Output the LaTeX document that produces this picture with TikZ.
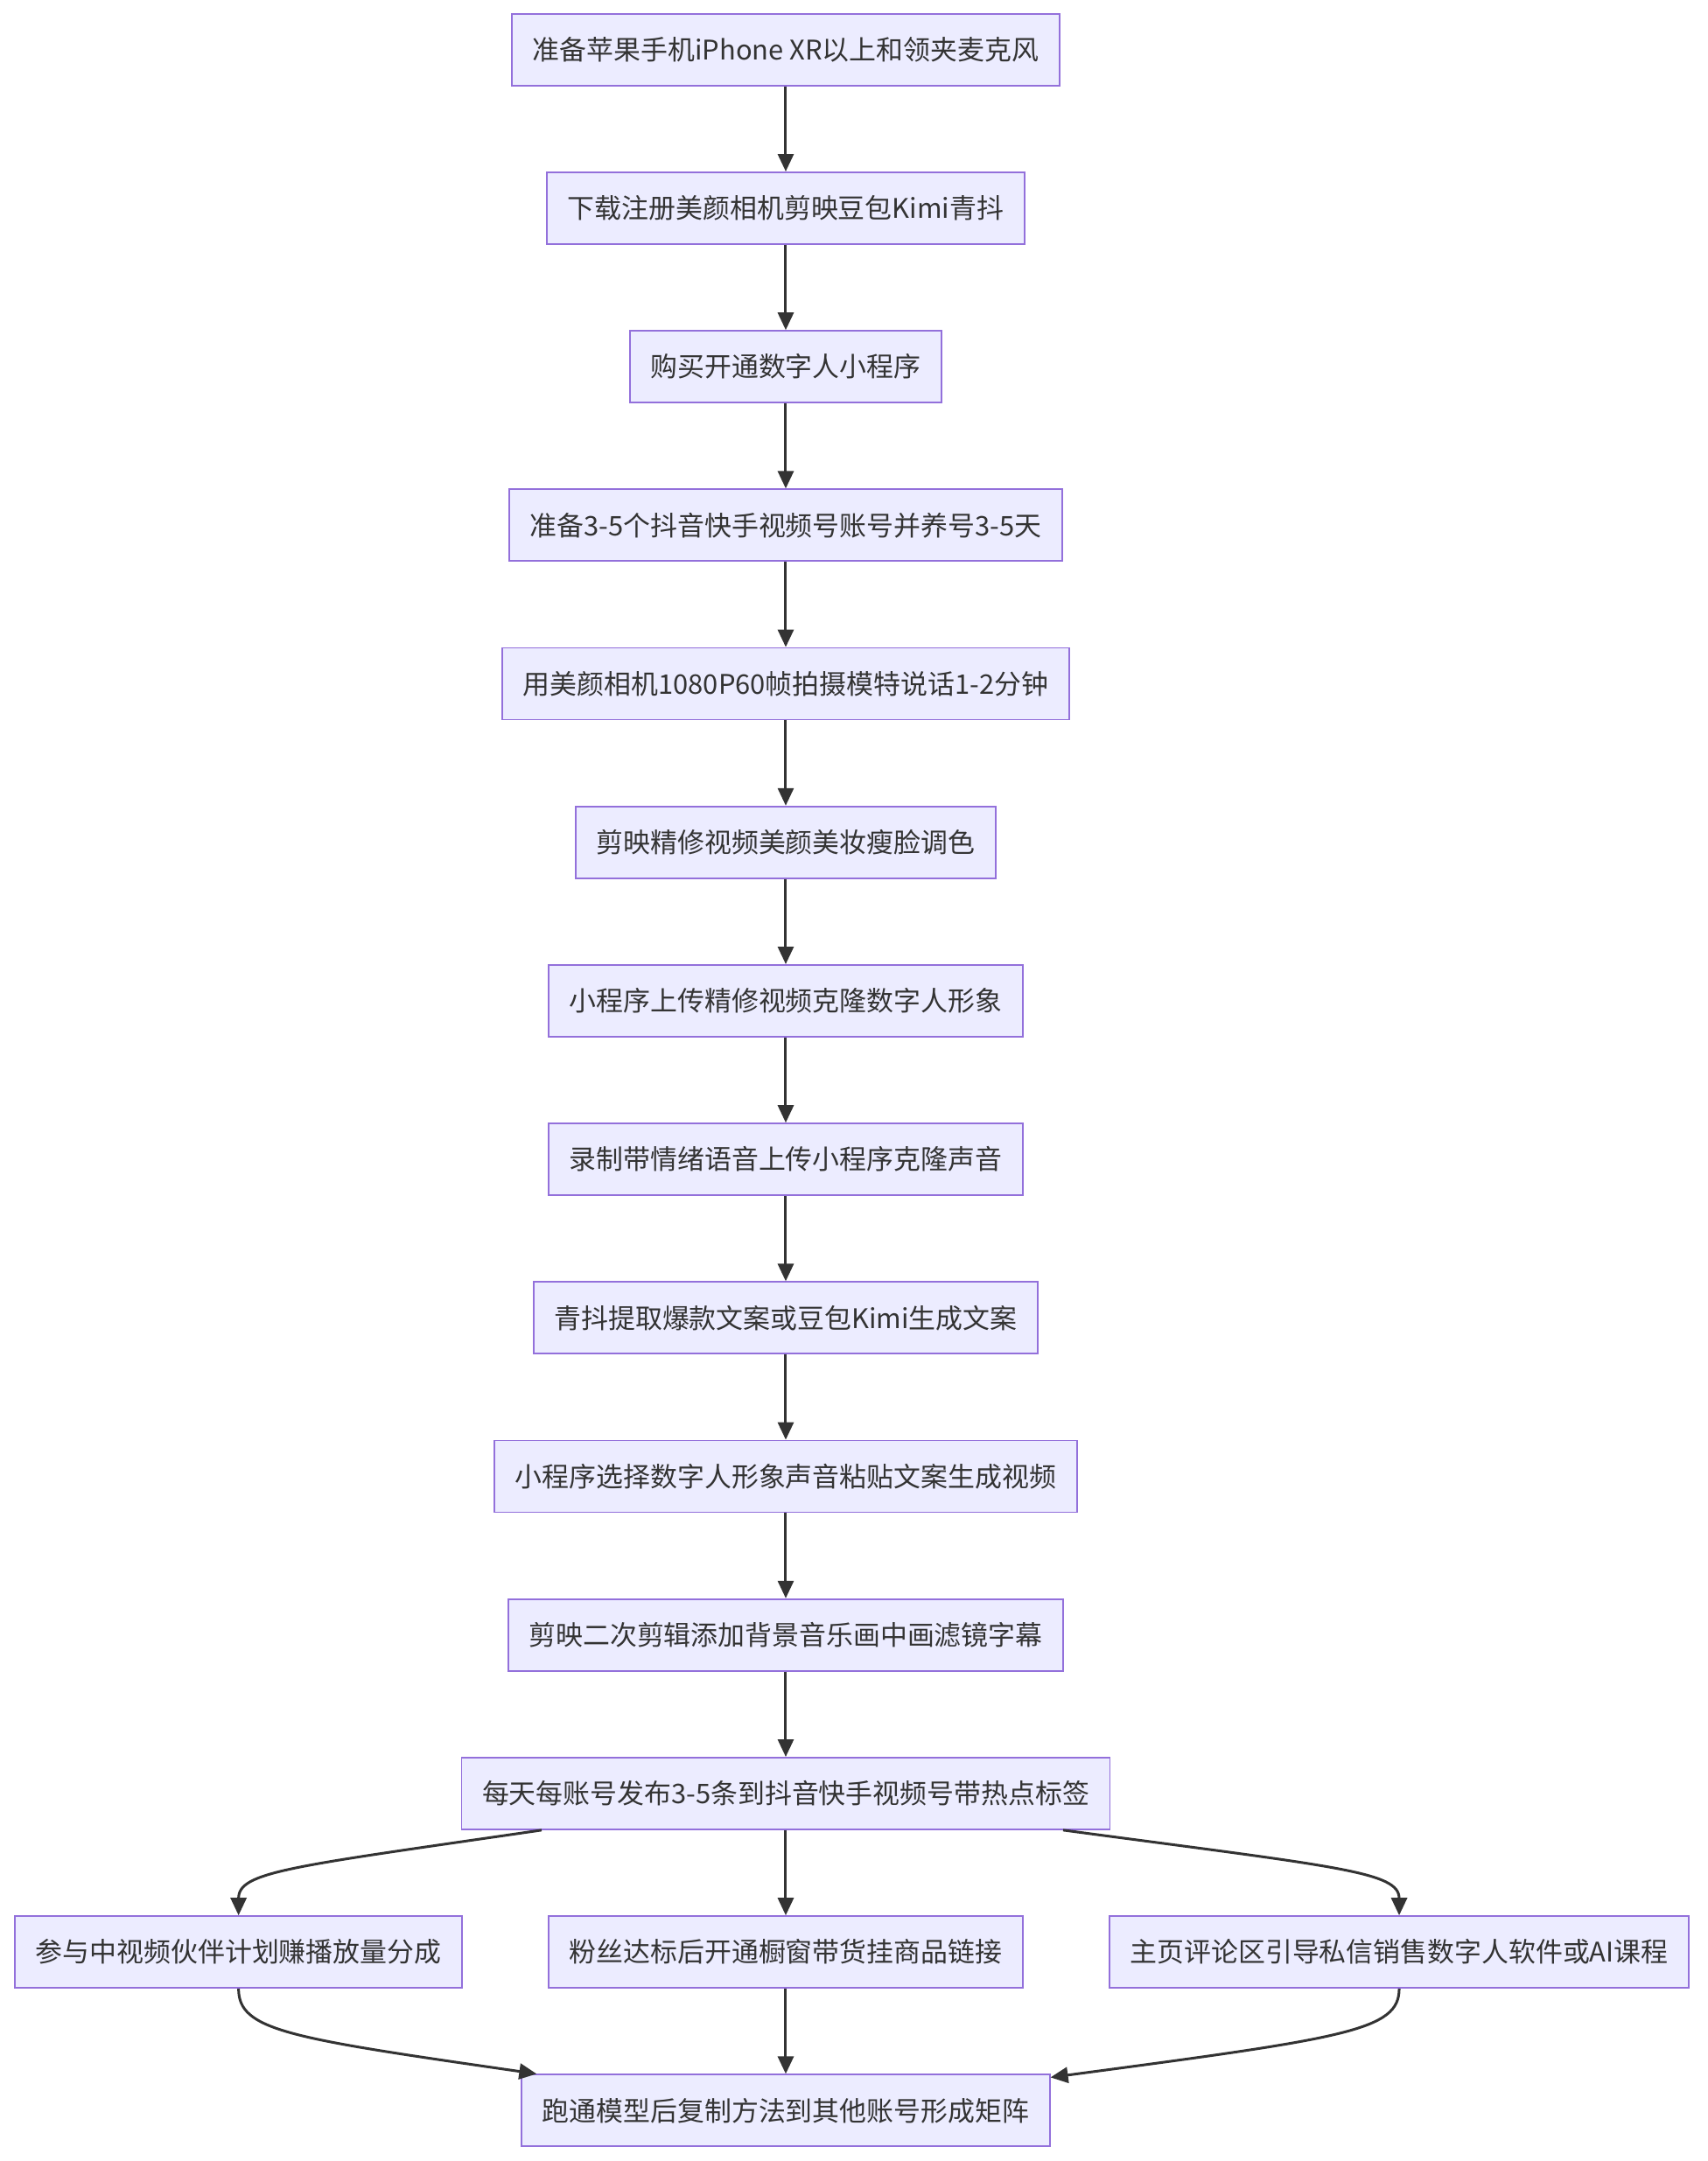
\documentclass[tikz,border=0pt]{standalone}
\usepackage{fontspec}
\setmainfont{Noto Sans CJK SC}
\usepackage{tikz}
\usetikzlibrary{positioning,arrows.meta}
\usepackage{xcolor}
\definecolor{NodeFill}{HTML}{ECECFF}
\definecolor{NodeLine}{HTML}{9370DB}
\definecolor{EdgeGray}{HTML}{333333}

\begin{document}
\begin{tikzpicture}[node distance=48.7pt,
  every node/.style={font=\fontsize{15.45pt}{18pt}\selectfont, text=EdgeGray},
  box/.style={draw=NodeLine,line width=0.9pt,fill=NodeFill,minimum height=41pt,inner xsep=11.8pt},
  flow/.style={-{Triangle[length=10pt,width=9pt]},line width=1.5pt,EdgeGray}]
\useasboundingbox (-449pt,28.35pt) rectangle (527pt,-1206.65pt);
\node[box] (phone) at (0,0) {准备苹果手机iPhone XR以上和领夹麦克风};
\node[box,below=of phone] (apps) {下载注册美颜相机剪映豆包Kimi青抖};
\node[box,below=of apps] (buy) {购买开通数字人小程序};
\node[box,below=of buy] (accts) {准备3-5个抖音快手视频号账号并养号3-5天};
\node[box,below=of accts] (shoot) {用美颜相机1080P60帧拍摄模特说话1-2分钟};
\node[box,below=of shoot] (edit) {剪映精修视频美颜美妆瘦脸调色};
\node[box,below=of edit] (clone) {小程序上传精修视频克隆数字人形象};
\node[box,below=of clone] (voice) {录制带情绪语音上传小程序克隆声音};
\node[box,below=of voice] (script) {青抖提取爆款文案或豆包Kimi生成文案};
\node[box,below=of script] (gen) {小程序选择数字人形象声音粘贴文案生成视频};
\node[box,below=of gen] (recut) {剪映二次剪辑添加背景音乐画中画滤镜字幕};
\node[box,below=of recut] (post) {每天每账号发布3-5条到抖音快手视频号带热点标签};
\node[box,below=of post] (shop) {粉丝达标后开通橱窗带货挂商品链接};
\node[box,left=of shop] (plan) {参与中视频伙伴计划赚播放量分成};
\node[box,right=of shop] (sell) {主页评论区引导私信销售数字人软件或AI课程};
\node[box,below=of shop] (matrix) {跑通模型后复制方法到其他账号形成矩阵};
\draw[flow] (phone)--(apps);
\draw[flow] (apps)--(buy);
\draw[flow] (buy)--(accts);
\draw[flow] (accts)--(shoot);
\draw[flow] (shoot)--(edit);
\draw[flow] (edit)--(clone);
\draw[flow] (clone)--(voice);
\draw[flow] (voice)--(script);
\draw[flow] (script)--(gen);
\draw[flow] (gen)--(recut);
\draw[flow] (recut)--(post);
\draw[flow] (post)--(shop);
\draw[flow] ([xshift=-139.5pt]post.south) .. controls +(-144.5pt,-21pt) and +(0,25pt) .. (plan.north);
\draw[flow] ([xshift=158.5pt]post.south) .. controls +(157.5pt,-21pt) and +(0,25pt) .. (sell.north);
\draw[flow] (shop)--(matrix);
\draw[flow] (plan.south) .. controls +(0,-24pt) and +(-142pt,20.5pt) .. ([xshift=9pt]matrix.north west);
\draw[flow] (sell.south) .. controls +(0,-24pt) and +(169pt,22.5pt) .. ([yshift=-2pt]matrix.north east);
\end{tikzpicture}
\end{document}
